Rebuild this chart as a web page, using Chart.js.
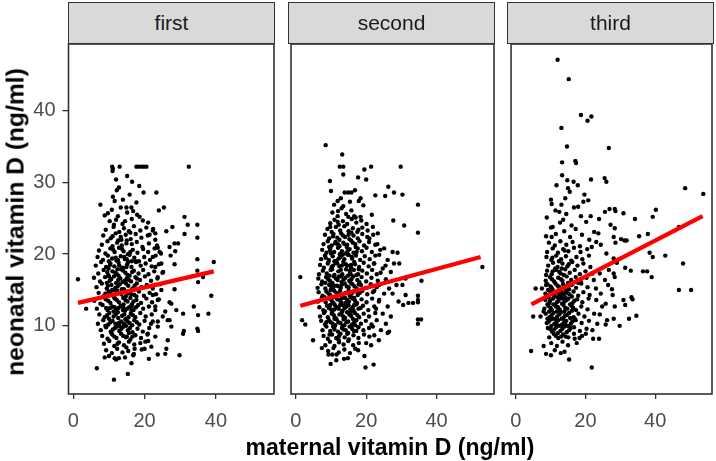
<!DOCTYPE html>
<html><head><meta charset="utf-8">
<script src="https://cdn.jsdelivr.net/npm/chart.js@4.4.1/dist/chart.umd.min.js"></script>
<style>
body{margin:0;background:#fff;}
#wrap{position:relative;width:716px;height:461px;overflow:hidden;background:#fff;font-family:"Liberation Sans",Arial,sans-serif;}
canvas{position:absolute;top:0;}
.strip{position:absolute;top:2px;height:42px;box-sizing:border-box;border:1.3px solid #333;background:#D9D9D9;color:#1A1A1A;font-size:21px;text-align:center;line-height:40px;}
.title{position:absolute;font-weight:bold;font-size:23px;line-height:23px;color:#000;white-space:nowrap;}
</style></head>
<body><div id="wrap">
<canvas id="c1" width="280" height="461" style="left:0px"></canvas>
<canvas id="c2" width="220" height="461" style="left:280px"></canvas>
<canvas id="c3" width="216" height="461" style="left:500px"></canvas>
<div class="strip" id="s1" style="left:68px;width:207px"></div>
<div class="strip" id="s2" style="left:288px;width:207px"></div>
<div class="strip" id="s3" style="left:507px;width:207px"></div>
<div class="title" id="xt" style="left:390px;top:436px;transform:translateX(-50%)"></div>
<div class="title" id="yt" style="left:16px;top:222px;transform:translate(-50%,-50%) rotate(-90deg) scaleX(1.07)"></div>
</div>
<script>
const panelLabels = ['first','second','third'];
const xTitle = 'maternal vitamin D (ng/ml)';
const yTitle = 'neonatal vitamin D (ng/ml)';
const xTicks = [0,20,40];
const yTicks = [10,20,30,40];
const xRange = [-1.35,56.3];
const yRange = [0.5,49.3];

const firstFit = [[1.3,13.2],[39.4,17.6]];
const secondFit = [[1.3,12.8],[52.5,19.6]];
const thirdFit = [[4.5,13.0],[53.6,25.3]];

const firstPoints = [
[10.9,32.2],[11.1,31.9],[13.0,32.2],[17.7,32.2],[18.3,32.2],[19.1,32.2],[19.8,32.2],[20.5,32.2],[32.4,32.2],[11.0,31.6],
[15.1,30.9],[16.5,30.1],[12.8,29.3],[19.7,28.6],[23.3,28.6],[11.1,28.0],[11.6,27.4],[17.7,27.2],[7.6,26.9],
[13.3,26.5],[14.9,26.5],[16.3,26.5],[24.0,26.1],[25.4,26.5],[9.7,25.7],[8.8,25.4],[18.6,25.2],[31.2,25.2],
[19.5,24.7],[32.1,24.1],[34.8,24.1],[27.8,23.8],[26.1,23.2],[31.2,22.8],[34.8,22.3],[28.4,21.5],[29.4,21.5],
[27.0,21.0],[28.6,20.4],[27.3,19.8],[34.8,19.3],[39.4,18.9],[28.4,18.6],[34.8,17.7],[36.4,16.8],[1.3,16.5],
[35.0,16.1],[28.4,15.1],[38.7,14.2],[27.0,13.3],[27.5,13.1],[33.8,12.7],[3.6,12.4],[28.9,12.2],[37.9,11.7],
[30.8,11.7],[35.0,11.5],[25.8,12.0],[26.5,10.8],[27.0,10.8],[27.5,9.9],[34.8,9.6],[35.0,9.3],[31.0,9.3],
[30.8,8.9],[26.5,8.0],[26.1,6.8],[25.8,6.1],[23.7,6.0],[29.8,5.9],[21.2,5.4],[8.8,5.6],[11.6,5.5],[12.8,5.5],
[16.3,4.8],[6.6,4.1],[15.3,3.3],[11.4,2.5],[20.0,6.8],[17.2,6.8],[14.9,7.0],
[21.4,22.7],[22.3,23.3],[23.0,22.0],[23.7,20.9],[24.2,20.3],[22.3,19.6],[24.7,18.7],[23.0,18.2],[25.2,17.5],[23.7,16.8],
[22.8,15.7],[24.7,15.0],[22.3,14.3],[23.7,13.6],[23.0,12.7],[25.1,11.3],[22.3,10.6],[23.7,9.9],[20.9,8.9],[23.0,8.5],[20.2,7.8],[21.9,7.1],
[10.2,24.6],[12.5,25.3],[13.8,24.2],[15.1,25.8],[16.4,24.9],[17.9,25.5],[21.0,24.4],[11.4,24.1],
[9.1,23.4],[11.3,23.8],[12.9,23.1],[14.2,23.6],[15.6,23.2],[17.0,23.9],[18.8,23.3],[20.5,23.7],[22.4,23.5],
[8.4,22.6],[10.5,22.2],[11.9,22.9],[13.3,22.4],[14.7,22.7],[16.1,22.1],[17.5,22.8],[19.1,22.3],[20.9,22.6],[23.0,22.9],
[8.0,21.3],[9.6,21.8],[11.0,21.1],[12.3,21.6],[13.6,21.2],[15.0,21.9],[16.4,21.4],[17.8,21.7],[19.4,21.0],[21.2,21.5],[23.5,21.2],
[7.2,20.5],[9.0,20.1],[10.4,20.8],[11.6,20.3],[12.8,20.9],[14.1,20.4],[15.3,20.0],[16.7,20.6],[18.0,20.2],[19.6,20.7],[21.0,20.3],[22.8,20.8],[24.6,20.1],
[6.8,19.6],[8.3,19.2],[9.7,19.8],[10.9,19.4],[12.1,19.1],[13.3,19.7],[14.5,19.3],[15.8,19.9],[17.1,19.5],[18.4,19.0],[19.9,19.6],[21.5,19.2],[23.1,19.8],
[6.3,18.4],[7.8,18.9],[9.2,18.2],[10.4,18.7],[11.5,18.3],[12.7,18.8],[13.9,18.1],[15.1,18.6],[16.3,18.2],[17.6,18.9],[18.9,18.4],[20.3,18.7],[22.0,18.3],[24.0,18.6],
[7.0,17.3],[8.5,17.8],[9.8,17.1],[11.0,17.6],[12.2,17.2],[13.4,17.9],[14.6,17.4],[15.8,17.0],[17.0,17.7],[18.3,17.3],[19.6,17.8],[21.1,17.2],[22.7,17.6],[25.0,17.4],
[5.8,16.7],[7.5,16.2],[8.9,16.8],[10.2,16.3],[11.4,16.9],[12.6,16.4],[13.8,16.1],[15.0,16.6],[16.2,16.2],[17.4,16.8],[18.7,16.4],[20.1,16.9],[21.8,16.3],[23.6,16.6],
[6.5,15.4],[8.0,15.9],[9.4,15.2],[10.7,15.7],[11.8,15.3],[13.0,15.8],[14.2,15.1],[15.4,15.6],[16.6,15.2],[17.8,15.9],[19.1,15.4],[20.6,15.7],[22.3,15.2],[24.3,15.8],
[7.1,14.6],[8.6,14.2],[9.9,14.8],[11.1,14.3],[12.3,14.9],[13.5,14.4],[14.7,14.1],[15.9,14.7],[17.1,14.3],[18.4,14.8],[19.8,14.2],[21.4,14.6],[23.2,14.4],
[5.9,13.5],[7.6,13.1],[9.1,13.7],[10.4,13.2],[11.6,13.8],[12.8,13.3],[14.0,13.9],[15.2,13.4],[16.4,13.0],[17.7,13.6],[19.0,13.2],[20.5,13.8],[22.1,13.3],[24.0,13.7],
[6.6,12.4],[8.2,12.9],[9.6,12.2],[10.9,12.7],[12.1,12.3],[13.3,12.8],[14.5,12.1],[15.7,12.6],[16.9,12.2],[18.2,12.9],[19.6,12.4],[21.2,12.7],[23.0,12.2],
[7.3,11.6],[8.8,11.2],[10.1,11.8],[11.3,11.3],[12.5,11.9],[13.7,11.4],[14.9,11.0],[16.1,11.7],[17.4,11.2],[18.8,11.8],[20.3,11.3],[22.0,11.6],
[6.9,10.3],[8.4,10.8],[9.8,10.2],[11.0,10.7],[12.2,10.1],[13.4,10.6],[14.6,10.9],[15.8,10.4],[17.1,10.8],[18.5,10.2],[20.0,10.7],[21.8,10.3],[23.7,10.6],
[7.7,9.4],[9.2,9.8],[10.5,9.2],[11.7,9.7],[12.9,9.3],[14.1,9.9],[15.3,9.4],[16.6,9.1],[18.0,9.6],[19.5,9.2],[21.3,9.7],
[8.1,8.6],[9.6,8.2],[10.9,8.8],[12.1,8.3],[13.4,8.9],[14.7,8.4],[16.0,8.1],[17.4,8.7],[19.0,8.3],[20.8,8.8],
[8.6,7.5],[10.1,7.9],[11.5,7.2],[12.8,7.7],[14.2,7.3],[15.6,7.8],[17.1,7.4],[18.8,7.6],[21.0,7.9],
[9.2,6.6],[10.8,6.2],[12.3,6.8],[13.8,6.3],[15.4,6.5],[17.0,6.1],[19.2,6.7],
[10.0,5.8],[12.0,5.3],[14.5,5.6],[16.8,5.9],
[10.3,18.5],[12.9,18.4],[15.4,18.9],[9.5,17.5],[11.8,17.4],[14.0,17.7],[16.5,17.5],
[10.6,16.5],[13.2,16.6],[15.6,16.4],[9.7,15.6],[12.4,15.5],[14.8,15.9],[17.2,15.6],
[10.5,14.5],[12.9,14.6],[15.3,14.5],[17.7,14.1],[9.8,13.5],[12.2,13.6],[14.6,13.6],[16.9,13.4],
[10.3,12.5],[12.7,12.5],[15.1,12.4],[17.6,12.6],[9.5,11.5],[11.9,11.6],[14.3,11.6],[16.7,11.5],
[10.4,10.5],[12.8,10.4],[15.2,10.6],[17.8,10.5],[11.1,9.5],[13.5,9.6],[15.9,9.7],[11.5,8.5],[14.0,8.6],[16.6,8.5],
[11.9,19.5],[14.3,19.6],[16.4,19.0],[11.2,20.6],[13.7,20.7],[16.0,20.3],[12.6,21.9],[14.9,21.5],[12.0,24.8],[14.5,24.6],
[16.8,26.0],[10.8,26.2],[13.9,27.6],[12.2,28.9],[15.8,28.3],[18.5,29.5],[12.0,30.4],
[9.9,18.0],[12.4,17.9],[14.9,18.2],[10.9,15.0],[13.6,15.1],[16.1,14.9],[11.3,12.0],[13.9,12.2],[16.3,12.1],[10.7,9.0],
[13.0,10.0],[15.6,9.0],[9.4,16.0],[12.0,16.0],[14.4,16.3],[11.5,14.0],[14.1,13.0],[16.0,13.9],[10.0,11.0],[12.6,11.1],
[15.5,11.2],[12.3,9.9],[14.8,10.0],
[10.0,19.0],[12.5,19.2],[15.0,19.3],[17.5,19.0],[9.0,14.5],[11.4,15.0],[13.9,14.7],[16.3,14.4],[9.2,12.5],[11.6,12.6],
[14.0,12.6],[16.4,12.7],[9.0,10.0],[11.8,10.3],[14.2,10.3],[16.5,10.1],[12.4,7.5],[15.0,8.5],[10.0,16.9],[12.7,17.0],
[15.2,17.1],[17.8,16.6],[13.5,22.0],[11.0,22.5],[16.0,23.0]
];

const secondPoints = [
[8.5,35.2],[13.2,33.9],[12.5,32.2],[13.5,32.2],[13.5,31.1],[21.4,32.2],[19.5,31.8],[29.8,32.2],[17.7,30.7],[20.0,30.4],
[9.7,30.2],[10.0,28.8],[13.9,28.6],[14.9,28.6],[15.8,28.6],[26.3,29.4],[27.9,28.6],[30.3,28.3],[22.6,28.2],[25.4,28.1],
[18.4,27.8],[17.9,27.4],[11.9,27.4],[34.7,26.9],[13.5,26.7],[13.0,26.4],[15.8,26.1],[11.9,25.3],[14.9,25.2],[17.0,25.1],
[18.4,25.2],[27.7,24.7],[30.8,24.0],[34.7,23.0],[27.5,20.3],[28.9,20.2],[27.9,18.7],[29.4,18.7],[31.2,16.6],[35.7,16.3],
[53.0,18.2],[1.3,16.8],[28.6,15.7],[30.3,15.7],[31.2,14.3],[34.7,14.2],[34.7,13.6],[29.2,13.4],[30.5,12.9],[32.0,13.2],
[33.3,13.2],[34.7,13.3],[1.8,10.8],[2.7,10.2],[34.7,10.9],[34.7,10.3],[35.6,10.9],[4.9,8.0],[7.4,6.9],[9.9,4.7],
[13.7,5.4],[11.6,6.0],[9.3,6.0],[10.4,6.0],[19.5,5.8],[19.8,4.2],[22.1,4.6],[17.7,6.6],[26.5,9.2],[26.1,9.0],[23.6,8.0],[21.4,7.3],
[21.9,23.8],[23.3,22.9],[20.9,22.2],[22.6,21.3],[25.1,20.8],[23.7,19.9],[26.1,19.2],[22.3,18.7],[24.7,18.0],[27.0,17.5],
[23.0,17.2],[25.6,16.5],[23.7,15.7],[26.5,15.2],[22.3,14.9],[25.1,14.5],[27.5,14.5],[23.7,13.6],[26.1,12.7],[22.8,12.4],
[24.7,11.7],[27.0,11.3],[23.0,10.8],[25.6,10.3],[21.9,9.9],[24.2,9.4],[20.9,8.5],[22.3,8.7],[20.0,7.6],
[9.8,24.3],[11.0,24.8],[12.2,24.1],[13.4,24.6],[14.6,24.2],[15.9,24.9],[17.2,24.4],[18.6,24.7],[20.1,24.2],
[9.0,23.5],[10.2,23.1],[11.4,23.8],[12.6,23.3],[13.8,23.9],[15.0,23.2],[16.2,23.6],[17.5,23.1],[18.9,23.7],[20.4,23.3],
[8.3,22.7],[9.5,22.2],[10.7,22.8],[11.8,22.3],[12.9,22.9],[14.0,22.4],[15.2,22.1],[16.4,22.6],[17.6,22.2],[18.9,22.8],[20.3,22.4],[22.0,22.7],
[7.9,21.4],[9.1,21.8],[10.2,21.2],[11.3,21.7],[12.4,21.1],[13.5,21.6],[14.6,21.3],[15.7,21.9],[16.9,21.4],[18.1,21.8],[19.4,21.2],[20.8,21.7],[23.2,21.4],
[7.5,20.6],[8.7,20.2],[9.8,20.8],[10.9,20.3],[12.0,20.9],[13.1,20.4],[14.2,20.1],[15.3,20.7],[16.4,20.2],[17.6,20.8],[18.8,20.4],[20.1,20.9],[21.6,20.3],[24.0,20.6],
[7.2,19.3],[8.3,19.8],[9.4,19.2],[10.5,19.7],[11.6,19.1],[12.7,19.6],[13.8,19.3],[14.9,19.9],[16.0,19.4],[17.1,19.8],[18.3,19.2],[19.6,19.7],[21.0,19.3],[22.6,19.8],
[6.9,18.5],[8.0,18.1],[9.1,18.7],[10.2,18.2],[11.3,18.8],[12.4,18.3],[13.5,18.9],[14.6,18.4],[15.7,18.1],[16.8,18.6],[18.0,18.2],[19.3,18.8],[20.7,18.3],[22.2,18.7],[25.5,18.4],
[6.6,17.2],[7.7,17.7],[8.8,17.3],[9.9,17.8],[11.0,17.1],[12.1,17.6],[13.2,17.2],[14.3,17.9],[15.4,17.4],[16.5,17.8],[17.7,17.2],[18.9,17.7],[20.2,17.3],[21.7,17.8],[24.1,17.4],
[6.4,16.6],[7.5,16.2],[8.6,16.8],[9.7,16.3],[10.8,16.9],[11.9,16.4],[13.0,16.1],[14.1,16.7],[15.2,16.3],[16.3,16.9],[17.5,16.4],[18.7,16.8],[20.0,16.2],[21.5,16.7],[23.3,16.3],
[6.2,15.3],[7.3,15.8],[8.4,15.2],[9.5,15.7],[10.6,15.1],[11.7,15.6],[12.8,15.3],[13.9,15.9],[15.0,15.4],[16.1,15.8],[17.3,15.2],[18.5,15.7],[19.8,15.3],[21.3,15.8],[23.0,15.4],
[6.5,14.7],[7.6,14.2],[8.7,14.8],[9.8,14.3],[10.9,14.9],[12.0,14.4],[13.1,14.1],[14.2,14.6],[15.3,14.2],[16.4,14.8],[17.6,14.3],[18.9,14.9],[20.3,14.4],[21.9,14.7],
[6.3,13.4],[7.4,13.9],[8.5,13.3],[9.6,13.8],[10.7,13.2],[11.8,13.7],[12.9,13.3],[14.0,13.9],[15.1,13.4],[16.2,13.8],[17.4,13.2],[18.7,13.7],[20.1,13.3],[21.7,13.8],[23.6,13.4],
[6.7,12.6],[7.8,12.2],[8.9,12.8],[10.0,12.3],[11.1,12.9],[12.2,12.4],[13.3,12.1],[14.4,12.7],[15.5,12.3],[16.6,12.9],[17.8,12.4],[19.1,12.8],[20.6,12.2],[22.3,12.7],
[6.9,11.3],[8.0,11.8],[9.1,11.2],[10.2,11.7],[11.3,11.1],[12.4,11.6],[13.5,11.3],[14.6,11.9],[15.7,11.4],[16.8,11.8],[18.0,11.2],[19.3,11.7],[20.8,11.3],[22.6,11.8],
[7.2,10.7],[8.3,10.2],[9.4,10.8],[10.5,10.3],[11.6,10.9],[12.7,10.4],[13.8,10.1],[14.9,10.6],[16.0,10.2],[17.2,10.8],[18.5,10.3],[19.9,10.7],[21.5,10.2],
[7.6,9.4],[8.7,9.9],[9.8,9.3],[10.9,9.8],[12.0,9.2],[13.1,9.7],[14.2,9.4],[15.3,9.9],[16.5,9.3],[17.8,9.8],[19.2,9.4],[20.8,9.7],
[7.9,8.6],[9.1,8.2],[10.3,8.8],[11.5,8.3],[12.7,8.9],[13.9,8.4],[15.1,8.1],[16.4,8.7],[17.8,8.3],[19.4,8.8],
[8.4,7.3],[9.7,7.8],[11.0,7.2],[12.3,7.7],[13.6,7.4],[14.9,7.9],[16.3,7.3],[17.9,7.6],
[9.2,6.5],[10.7,6.9],[12.2,6.3],[13.8,6.7],[15.4,6.2],[16.9,6.8],[11.5,5.2],[14.8,5.5],
[10.0,20.1],[12.5,20.0],[15.0,19.9],[17.3,20.3],[9.3,18.9],[11.8,18.7],[14.2,18.6],[16.6,18.9],
[10.3,17.9],[12.8,17.8],[15.3,17.7],[17.9,17.9],[9.2,16.5],[11.4,16.6],[13.6,16.5],[15.8,16.5],[18.1,16.1],
[10.1,15.5],[12.3,15.5],[14.5,15.5],[16.7,15.5],[9.3,14.5],[11.5,14.6],[13.7,14.5],[15.9,14.5],[18.2,14.6],
[10.2,13.5],[12.4,13.6],[14.6,13.6],[16.8,13.5],[9.4,12.5],[11.7,12.6],[13.9,12.5],[16.1,12.6],[18.4,12.5],
[10.8,11.5],[13.0,11.6],[15.2,11.6],[17.5,11.5],[9.9,10.5],[12.1,10.5],[14.4,10.5],[16.6,10.5],[11.0,9.5],[13.6,9.5],[16.0,9.6],
[11.2,21.5],[13.8,21.4],[16.2,21.6],[10.6,22.5],[13.4,22.6],[15.8,23.0],[11.9,24.5],[14.3,25.6],[16.6,25.3],[10.4,25.8],
[12.8,27.8],[16.8,28.9],[19.2,26.8],[21.6,25.5],[10.9,26.9],
[9.7,20.5],[12.2,19.4],[14.7,20.4],[10.6,18.4],[13.1,18.4],[15.7,18.5],[9.6,17.0],[12.3,16.9],[14.8,17.0],[17.2,17.1],
[10.4,16.0],[13.2,15.8],[15.6,16.0],[9.9,15.0],[12.6,14.9],[15.0,14.9],[17.3,14.8],[10.5,14.0],[13.3,13.9],[15.7,14.0],
[9.8,12.9],[12.6,12.9],[15.0,12.9],[17.2,13.0],[10.4,12.0],[13.1,12.0],[15.6,11.9],[11.0,11.0],[13.6,10.9],[16.2,11.0],
[10.6,9.9],[13.3,10.0],[15.8,10.0],[12.3,8.6],[14.9,9.0],
[9.5,21.0],[12.0,21.4],[14.5,21.0],[17.0,21.0],[8.5,19.5],[11.0,19.0],[13.3,19.9],[15.9,19.6],[8.4,16.0],[10.9,15.6],
[12.9,16.9],[15.6,17.2],[17.9,15.8],[8.2,14.0],[11.3,14.0],[14.1,13.2],[16.6,13.9],[8.3,12.0],[11.0,12.3],[13.6,12.8],
[16.4,12.2],[8.7,10.5],[11.2,10.1],[14.0,11.1],[16.9,10.1],[9.6,8.8],[12.2,8.0],[14.6,8.9],[17.2,9.3],[12.4,22.0],
[15.0,22.7],[17.8,23.4],[9.8,23.8],[12.0,26.0],[15.4,27.3]
];

const thirdPoints = [
[12.0,47.1],[15.2,44.4],[18.7,39.4],[20.6,38.6],[21.7,39.2],[13.1,37.6],[14.7,35.0],[26.7,34.8],[13.3,32.8],[17.1,33.0],
[17.3,32.7],[13.3,31.0],[11.7,29.6],[14.8,30.3],[16.6,30.1],[17.8,29.6],[21.6,30.4],[25.5,30.6],[26.0,30.1],[48.6,29.2],
[53.8,28.4],[15.0,29.2],[15.5,28.7],[10.1,27.6],[10.3,27.0],[13.1,26.9],[19.7,28.3],[19.4,27.3],[20.8,27.5],[16.7,26.5],
[8.9,25.1],[14.5,25.6],[12.7,24.4],[13.6,24.8],[18.7,25.3],[21.5,25.3],[23.9,24.9],[25.6,25.9],[26.9,26.3],[28.4,26.3],
[28.6,26.0],[30.9,25.7],[34.2,24.9],[39.3,25.2],[40.2,26.2],[46.8,23.8],[10.1,23.7],[10.6,23.8],[8.7,22.5],[10.3,22.4],
[35.4,22.5],[37.9,22.8],[31.2,21.9],[31.8,21.9],[42.9,19.8],[39.3,19.6],[38.4,20.2],[48.0,18.7],[31.4,18.1],[33.0,17.7],
[36.5,17.6],[37.7,17.6],[39.0,16.8],[46.8,15.0],[50.3,15.0],[5.7,15.2],[33.2,14.0],[33.5,13.7],[31.4,12.9],[34.6,11.4],
[32.5,11.0],[29.8,10.0],[28.1,11.0],[5.0,11.3],[25.8,10.2],[4.4,6.5],[8.0,7.2],[8.7,6.1],[10.1,5.9],[12.9,6.2],
[15.3,5.3],[21.8,4.2],[22.2,8.2],[23.9,8.2],[20.1,8.9],[16.9,8.2],[18.3,8.3],
[22.5,23.1],[23.7,22.9],[21.1,22.0],[23.1,21.7],[21.8,21.0],[24.4,21.3],[27.2,24.1],[28.4,23.6],[28.1,22.4],[28.6,21.6],
[30.2,22.1],[26.0,20.1],[28.1,19.4],[29.0,18.8],[26.7,17.8],[28.1,17.3],[25.6,16.4],[24.1,17.3],[26.5,15.7],[28.4,16.8],
[27.6,15.1],[25.8,13.1],[27.8,14.3],[24.4,14.5],[23.0,15.2],[23.1,13.6],[24.8,12.7],[22.5,11.7],[24.1,11.6],[26.2,10.8],
[28.4,12.7],[30.9,13.6],[23.4,10.3],[22.0,9.4],
[7.5,15.2],[7.1,11.3],[8.0,12.0],[8.5,14.5],[8.7,17.1],[8.7,15.7],
[9.5,21.6],[11.2,21.2],[12.8,21.8],[14.5,21.3],[16.3,21.7],[18.4,21.1],
[9.0,20.3],[10.6,20.8],[12.1,20.2],[13.6,20.7],[15.1,20.4],[16.7,20.9],[18.6,20.3],[20.5,20.7],
[8.8,19.6],[10.2,19.2],[11.6,19.8],[13.0,19.3],[14.4,19.7],[15.9,19.1],[17.4,19.6],[19.1,19.3],[21.0,19.8],
[9.3,18.4],[10.7,18.8],[12.0,18.2],[13.4,18.7],[14.8,18.3],[16.2,18.9],[17.7,18.4],[19.4,18.7],[21.4,18.2],
[9.0,17.7],[10.3,17.2],[11.6,17.8],[12.9,17.3],[14.2,17.9],[15.5,17.4],[16.9,17.8],[18.4,17.2],[20.0,17.6],[22.0,17.3],
[8.6,16.3],[9.8,16.8],[11.0,16.2],[12.2,16.7],[13.4,16.3],[14.6,16.9],[15.9,16.4],[17.2,16.8],[18.6,16.2],[20.3,16.7],[22.4,16.4],
[9.1,15.8],[10.3,15.3],[11.4,15.9],[12.5,15.4],[13.6,15.8],[14.8,15.2],[16.0,15.7],[17.3,15.3],[18.8,15.9],[20.6,15.4],
[8.8,14.3],[9.9,14.8],[11.0,14.2],[12.1,14.7],[13.2,14.3],[14.3,14.9],[15.4,14.4],[16.6,14.8],[17.9,14.2],[19.4,14.7],[21.2,14.3],
[8.5,13.6],[9.6,13.2],[10.7,13.8],[11.8,13.3],[12.9,13.9],[14.0,13.4],[15.1,13.8],[16.3,13.2],[17.6,13.7],[19.1,13.3],[20.9,13.8],
[8.2,12.4],[9.3,12.8],[10.4,12.2],[11.5,12.7],[12.6,12.3],[13.7,12.9],[14.8,12.4],[16.0,12.8],[17.3,12.2],[18.8,12.7],[20.6,12.3],
[8.6,11.7],[9.7,11.2],[10.8,11.8],[11.9,11.3],[13.0,11.9],[14.1,11.4],[15.3,11.8],[16.6,11.2],[18.0,11.7],[19.7,11.3],
[8.9,10.4],[10.0,10.9],[11.1,10.3],[12.2,10.8],[13.3,10.2],[14.5,10.7],[15.8,10.3],[17.2,10.8],[18.9,10.4],[21.0,10.7],
[9.2,9.7],[10.4,9.2],[11.6,9.8],[12.8,9.3],[14.0,9.9],[15.3,9.4],[16.7,9.8],[18.4,9.3],[20.3,9.6],
[9.6,8.4],[10.9,8.9],[12.2,8.3],[13.6,8.8],[15.1,8.4],[16.7,8.9],[19.0,8.6],
[10.2,7.6],[11.8,7.2],[13.4,7.8],[15.0,7.3],[17.5,7.6],[11.2,6.6],[14.0,6.4],
[10.0,15.5],[12.0,15.6],[14.1,15.5],[16.4,15.9],[10.4,14.5],[12.6,14.4],[14.8,14.6],[9.9,13.5],[12.3,13.5],[14.6,13.6],[16.8,13.5],
[10.0,12.5],[12.1,12.6],[14.2,12.5],[16.5,12.5],[10.3,11.5],[12.5,11.6],[14.7,11.5],[9.5,10.6],[11.7,10.6],[13.9,10.5],[16.2,10.6],
[11.0,9.5],[13.4,9.6],[15.7,9.7],[11.5,8.6],[14.3,8.5],[12.4,19.0],[15.2,18.6],[11.3,18.0],[13.8,17.1],
[11.5,22.8],[13.9,23.2],[15.6,22.4],[17.2,23.5],[19.0,22.7],[12.5,25.9],[16.0,24.0],[17.9,26.6],[20.2,24.5],[14.2,27.8],[11.4,26.1],
[10.6,15.0],[13.0,14.9],[15.3,15.1],[9.4,14.0],[11.9,14.0],[14.2,14.0],[10.8,13.0],[13.3,13.1],[15.6,13.0],[9.6,12.0],
[11.8,12.0],[14.0,12.0],[10.6,11.0],[13.2,11.0],[15.6,11.1],[10.2,10.0],[12.6,10.0],[14.9,10.0],[12.1,9.0],[14.6,9.1],
[10.4,16.5],[13.0,16.5],
[9.3,15.0],[11.4,14.6],[13.8,14.5],[16.1,14.1],[9.1,13.0],[11.3,12.9],[13.5,13.8],[16.1,12.1],[9.1,11.0],[11.4,11.0],
[13.7,11.1],[16.9,11.0],[9.8,9.6],[12.0,10.1],[14.2,10.2],[13.0,8.5],[10.6,17.6],[13.2,18.0],[15.0,16.0],[17.9,16.0],
[12.5,17.5],[10.5,19.5],[14.0,20.5]
];

const panels = [
  {canvas:'c1', strip:'s1', label:panelLabels[0], points:firstPoints, fit:firstFit, padL:0, padR:6, showY:true},
  {canvas:'c2', strip:'s2', label:panelLabels[1], points:secondPoints, fit:secondFit, padL:8.5, padR:6, showY:false},
  {canvas:'c3', strip:'s3', label:panelLabels[2], points:thirdPoints, fit:thirdFit, padL:8, padR:3, showY:false}
];

document.getElementById('xt').textContent = xTitle;
document.getElementById('yt').textContent = yTitle;

const FONT = "'Liberation Sans', Arial, sans-serif";
const borderPlugin = {
  id:'panelBorder',
  afterDraw(chart){
    const a = chart.chartArea, ctx = chart.ctx;
    ctx.save();
    ctx.strokeStyle = '#333333';
    ctx.lineWidth = 1.6;
    ctx.strokeRect(a.left, a.top, a.right - a.left, a.bottom - a.top);
    ctx.restore();
  }
};

panels.forEach(p => {
  document.getElementById(p.strip).textContent = p.label;
  new Chart(document.getElementById(p.canvas), {
    type:'scatter',
    data:{datasets:[
      {data:p.fit.map(d=>({x:d[0],y:d[1]})), showLine:true, borderColor:'#FF0000', borderWidth:4.3, pointRadius:0, order:1},
      {data:p.points.map(d=>({x:d[0],y:d[1]})), pointRadius:2.2, pointBackgroundColor:'#000000', pointBorderWidth:0, order:2}
    ]},
    options:{
      responsive:false, animation:false, devicePixelRatio:1, events:[],
      layout:{padding:{top:44, bottom:0, left:p.padL, right:p.padR}},
      plugins:{legend:{display:false}, tooltip:{enabled:false}},
      scales:{
        x:{type:'linear', min:xRange[0], max:xRange[1],
           afterBuildTicks:s=>{s.ticks = xTicks.map(v=>({value:v}));},
           afterFit:s=>{s.height = 67;},
           grid:{display:true, drawOnChartArea:false, drawTicks:true, tickLength:5, color:'#333333', lineWidth:1.3},
           border:{display:false},
           ticks:{font:{family:FONT, size:20}, color:'#4D4D4D', padding:10, maxRotation:0}},
        y:{type:'linear', display:p.showY, min:yRange[0], max:yRange[1],
           afterBuildTicks:s=>{s.ticks = yTicks.map(v=>({value:v}));},
           afterFit:s=>{s.width = p.showY ? 68.5 : 0;},
           grid:{display:true, drawOnChartArea:false, drawTicks:true, tickLength:6, color:'#333333', lineWidth:1.3},
           border:{display:false},
           ticks:{font:{family:FONT, size:20}, color:'#4D4D4D', padding:7}}
      }
    },
    plugins:[borderPlugin]
  });
});
</script>
</body></html>
